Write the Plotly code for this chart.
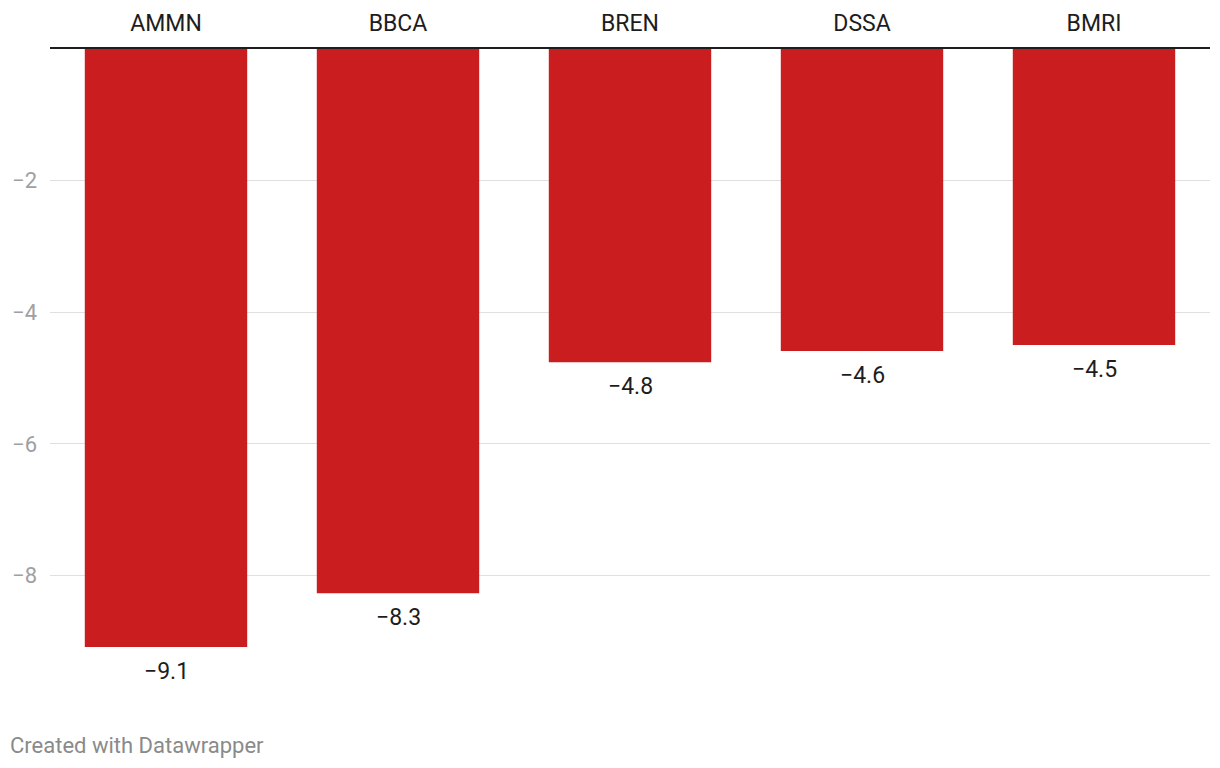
import plotly.graph_objects as go

categories = ["AMMN", "BBCA", "BREN", "DSSA", "BMRI"]
values = [-9.09, -8.27, -4.76, -4.59, -4.5]
tick_vals = [-2, -4, -6, -8]
tick_text = ["−2", "−4", "−6", "−8"]

# page body has an 8px default margin; figure is sized/positioned to compensate
OFF = 8
W, H = 1220 - OFF, 768 - OFF
ML, MR, MT, MB = 50 - OFF, 10, 49 - OFF, 61
plot_w = W - ML - MR
plot_h = H - MT - MB

fig = go.Figure()
fig.add_trace(go.Bar(
    x=categories, y=values,
    marker=dict(color="#c91d1f", line=dict(width=0)),
    hoverinfo="skip",
))

for c, v in zip(categories, values):
    fig.add_annotation(
        x=c, y=v, xref="x", yref="y",
        text=f"{v:.1f}".replace("-", "−"),
        showarrow=False, yanchor="top", yshift=-9,
        font=dict(family="Roboto", size=23, color="#1d1d1d"),
    )

fig.add_annotation(
    xref="paper", yref="paper",
    x=-(ML - (8 - OFF)) / plot_w, y=-(745 - (768 - MB)) / plot_h,
    xanchor="left", yanchor="middle",
    text="Created with Datawrapper", showarrow=False,
    font=dict(family="Roboto", size=22, color="#8a8a8a"),
)

fig.update_layout(
    width=W, height=H,
    margin=dict(l=ML, r=MR, t=MT, b=MB, pad=0),
    plot_bgcolor="white", paper_bgcolor="white",
    bargap=0.30,
    showlegend=False,
    font=dict(family="Roboto"),
    xaxis=dict(
        side="top", showgrid=False, zeroline=False,
        showline=True, linecolor="#1d1d1d", linewidth=2,
        ticks="", ticklabelstandoff=7, automargin=False,
        tickfont=dict(family="Roboto", size=23, color="#1d1d1d"),
        fixedrange=True,
    ),
    yaxis=dict(
        range=[-10, 0], tickvals=tick_vals, ticktext=tick_text,
        showgrid=True, gridcolor="#e0e0e0", gridwidth=1,
        zeroline=False, showline=False, ticks="",
        ticklabelstandoff=12, automargin=False,
        tickfont=dict(family="Roboto", size=22, color="#a0a0a0"),
        fixedrange=True,
    ),
)

fig.write_html("out.html")
